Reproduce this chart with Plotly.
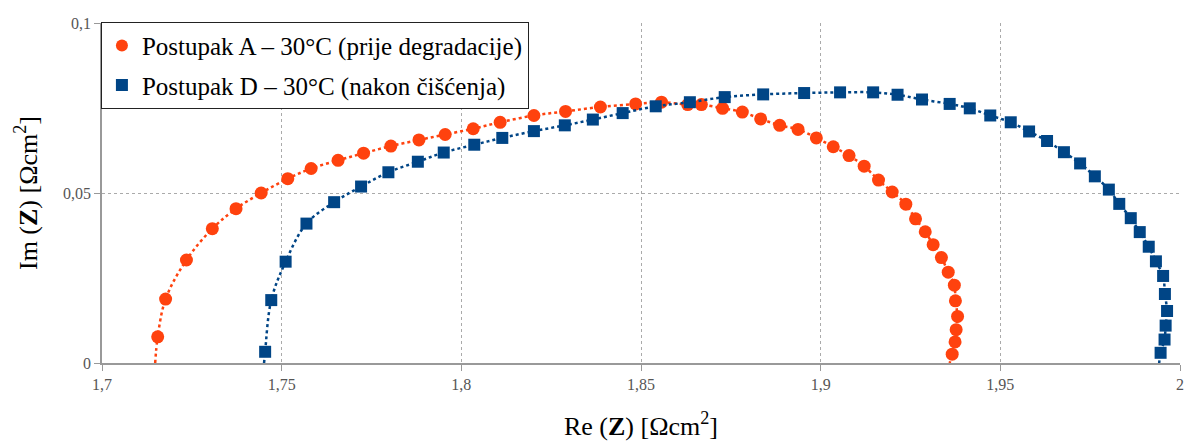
import plotly.graph_objects as go

# Postupak A – 30°C (prije degradacije)
a_re = [1.7155, 1.7177, 1.7235, 1.7307, 1.7373, 1.7443, 1.7517, 1.7582, 1.7657, 1.7728,
        1.7804, 1.7882, 1.7955, 1.8033, 1.8108, 1.8202, 1.8290, 1.8387, 1.8485, 1.8557,
        1.8630, 1.8668, 1.8727, 1.8782, 1.8833, 1.8886, 1.8937, 1.8988, 1.9035, 1.9079,
        1.9121, 1.9161, 1.9199, 1.9237, 1.9264, 1.9291, 1.9313, 1.9336, 1.9355, 1.9372,
        1.9375, 1.9381, 1.9377, 1.9374, 1.9366]
a_im = [0.0077, 0.0188, 0.0303, 0.0395, 0.0454, 0.0500, 0.0542, 0.0572, 0.0596, 0.0617,
        0.0638, 0.0656, 0.0672, 0.0689, 0.0708, 0.0728, 0.0740, 0.0753, 0.0762, 0.0767,
        0.0760, 0.0760, 0.0749, 0.0738, 0.0718, 0.0699, 0.0687, 0.0662, 0.0636, 0.0610,
        0.0579, 0.0538, 0.0503, 0.0467, 0.0424, 0.0386, 0.0348, 0.0310, 0.0267, 0.0229,
        0.0183, 0.0137, 0.0098, 0.0062, 0.0026]
a_intercepts_re = [1.7148, 1.9359]

# Postupak D – 30°C (nakon čišćenja)
d_re = [1.7454, 1.7471, 1.7511, 1.7569, 1.7646, 1.7721, 1.7797, 1.7879, 1.7951, 1.8036,
        1.8114, 1.8202, 1.8288, 1.8366, 1.8449, 1.8541, 1.8636, 1.8733, 1.8840, 1.8954,
        1.9054, 1.9146, 1.9214, 1.9282, 1.9359, 1.9415, 1.9472, 1.9529, 1.9580, 1.9630,
        1.9677, 1.9722, 1.9763, 1.9802, 1.9831, 1.9863, 1.9888, 1.9913, 1.9933, 1.9953,
        1.9958, 1.9964, 1.9960, 1.9957, 1.9946]
d_im = [0.0033, 0.0185, 0.0298, 0.0410, 0.0473, 0.0519, 0.0561, 0.0592, 0.0619, 0.0642,
        0.0662, 0.0682, 0.0699, 0.0716, 0.0735, 0.0755, 0.0767, 0.0782, 0.0790, 0.0794,
        0.0796, 0.0796, 0.0789, 0.0775, 0.0762, 0.0749, 0.0728, 0.0708, 0.0681, 0.0653,
        0.0620, 0.0587, 0.0549, 0.0510, 0.0468, 0.0426, 0.0385, 0.0342, 0.0299, 0.0256,
        0.0203, 0.0153, 0.0110, 0.0069, 0.0030]
d_intercepts_re = [1.7451, 1.9942]

x_ticks = [1.7, 1.75, 1.8, 1.85, 1.9, 1.95, 2.0]
x_ticklabels = ["1,7", "1,75", "1,8", "1,85", "1,9", "1,95", "2"]
y_ticks = [0, 0.05, 0.1]
y_ticklabels = ["0", "0,05", "0,1"]

ORANGE = "#ff420e"
BLUE = "#004586"
FONT = "Liberation Serif"

fig = go.Figure()

for name, xs, ys, ends, color, sym, size, grp in [
    ("Postupak A – 30°C (prije degradacije)", a_re, a_im, a_intercepts_re, ORANGE, "circle", 13, "a"),
    ("Postupak D – 30°C (nakon čišćenja)", d_re, d_im, d_intercepts_re, BLUE, "square", 12, "d"),
]:
    fig.add_trace(go.Scatter(
        x=[ends[0]] + xs + [ends[1]], y=[0] + ys + [0],
        mode="lines", line=dict(color=color, width=2.5, dash="dot", shape="spline"),
        showlegend=False, hoverinfo="skip", legendgroup=grp,
    ))
    fig.add_trace(go.Scatter(
        x=xs, y=ys, mode="markers", name=name, legendgroup=grp,
        marker=dict(color=color, symbol=sym, size=size, line=dict(width=0)),
    ))

fig.update_layout(
    width=1189, height=441,
    margin=dict(l=102, r=5, t=23, b=74),
    paper_bgcolor="white", plot_bgcolor="white",
    font=dict(family=FONT, color="#000"),
    showlegend=True,
    legend=dict(
        x=-0.001, y=1.004, xanchor="left", yanchor="top",
        bgcolor="white", bordercolor="#222", borderwidth=1,
        font=dict(family=FONT, size=25, color="#000"),
        tracegroupgap=4, itemsizing="constant",
    ),
    xaxis=dict(
        range=[1.7, 2.0], tickvals=x_ticks, ticktext=x_ticklabels,
        showgrid=True, gridcolor="#aaaaaa", griddash="dot", gridwidth=1,
        showline=True, linecolor="#999999", linewidth=1.5,
        ticks="outside", ticklen=6, tickcolor="#999999",
        tickfont=dict(family=FONT, size=16, color="#555"),
        zeroline=False,
        title=dict(text="Re (<b>Z</b>) [Ωcm<sup>2</sup>]",
                   font=dict(family=FONT, size=26, color="#000"), standoff=25),
    ),
    yaxis=dict(
        range=[0, 0.1], tickvals=y_ticks, ticktext=y_ticklabels,
        showgrid=True, gridcolor="#aaaaaa", griddash="dot", gridwidth=1,
        showline=True, linecolor="#999999", linewidth=1.5,
        ticks="outside", ticklen=6, tickcolor="#999999",
        tickfont=dict(family=FONT, size=16, color="#555"),
        zeroline=False,
        title=dict(text="Im (<b>Z</b>) [Ωcm<sup>2</sup>]",
                   font=dict(family=FONT, size=26, color="#000"), standoff=18),
    ),
)

# remove the browser's default 8px body margin so the figure fills the window exactly
fig.write_html("out.html", config={"displayModeBar": False},
               post_script="document.body.style.margin='0';")
